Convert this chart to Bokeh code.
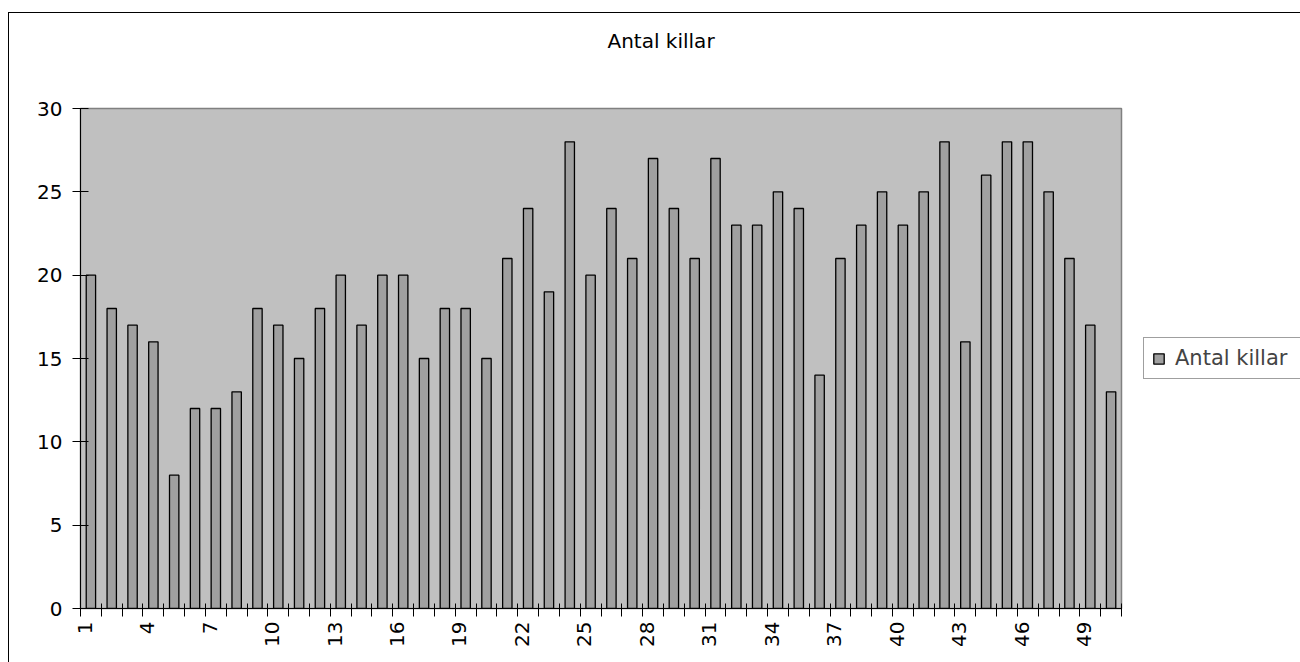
import math
from bokeh.plotting import figure
from bokeh.models import (ColumnDataSource, FixedTicker, Range1d, Legend, LegendItem, Title,
                          CustomJSTickFormatter)
from bokeh.embed import file_html
from bokeh.resources import INLINE

# ---- data ----
categories = list(range(1, 51))
values = [20, 18, 17, 16, 8, 12, 12, 13, 18, 17,
          15, 18, 20, 17, 20, 20, 15, 18, 18, 15,
          21, 24, 19, 28, 20, 24, 21, 27, 24, 21,
          27, 23, 23, 25, 24, 14, 21, 23, 25, 23,
          25, 28, 16, 26, 28, 28, 25, 21, 17, 13]
label_ticks = categories[::3]
y_ticks = [0, 5, 10, 15, 20, 25, 30]
series_name = "Antal killar"
title_text = "Antal killar"

FONT = "DejaVu Sans"
LABEL_SHIFT = 0.3  # labels sit slightly left of the category centre, as in the original

src = ColumnDataSource(dict(x=categories, y=values))

p = figure(frame_width=1041, frame_height=500, output_backend="svg", toolbar_location=None,
           x_range=Range1d(categories[0] - 0.5, categories[-1] + 0.5),
           y_range=Range1d(y_ticks[0], y_ticks[-1]),
           min_border_left=71, min_border_right=179,
           min_border_top=95, min_border_bottom=54)
p.margin = (12, 0, 0, 8)
p.styles = {"border-top": "1px solid black", "border-left": "1px solid black"}
p.title = None

p.background_fill_color = "#C0C0C0"
p.border_fill_color = "white"
p.outline_line_color = "#808080"
p.outline_line_width = 1.5
p.grid.visible = False

# spacer between plot area and title, then the title itself
p.add_layout(Title(text=" ", text_font_size="1px", standoff=53), "above")
p.add_layout(Title(text=title_text, align="left", offset=527, standoff=0,
                   text_font=FONT, text_font_size="20px",
                   text_font_style="normal", text_color="black"), "above")

r = p.vbar(x="x", top="y", width=0.45, source=src,
           fill_color="#A0A0A0", line_color="black", line_width=1.3)

boundaries = [c - 0.5 for c in categories] + [categories[-1] + 0.5]
xa = p.xaxis[0]
xa.ticker = FixedTicker(ticks=[c - LABEL_SHIFT for c in label_ticks], minor_ticks=boundaries)
xa.formatter = CustomJSTickFormatter(args=dict(shift=LABEL_SHIFT),
                                     code="return String(Math.round(tick + shift));")
xa.major_tick_in = 0
xa.major_tick_out = 0
xa.minor_tick_in = 5
xa.minor_tick_out = 8
xa.minor_tick_line_color = "black"
xa.axis_line_color = "black"
xa.major_label_orientation = math.pi / 2
xa.major_label_standoff = 5
xa.major_label_text_font = FONT
xa.major_label_text_font_size = "20px"
xa.major_label_text_color = "black"

ya = p.yaxis[0]
ya.ticker = FixedTicker(ticks=y_ticks)
ya.major_tick_in = 8
ya.major_tick_out = 8
ya.minor_tick_in = 0
ya.minor_tick_out = 0
ya.major_tick_line_color = "black"
ya.axis_line_color = "black"
ya.major_label_standoff = 10
ya.major_label_text_font = FONT
ya.major_label_text_font_size = "20px"
ya.major_label_text_color = "black"

legend = Legend(items=[LegendItem(label=series_name, renderers=[r])],
                location="center_left", margin=22, padding=8, spacing=0,
                glyph_width=13, glyph_height=13, label_standoff=10,
                label_width=117,
                label_text_font=FONT, label_text_font_size="21px",
                border_line_color="#404040", border_line_width=1,
                background_fill_color="white")
p.add_layout(legend, "right")

open("out.html", "w").write(file_html(p, INLINE))
